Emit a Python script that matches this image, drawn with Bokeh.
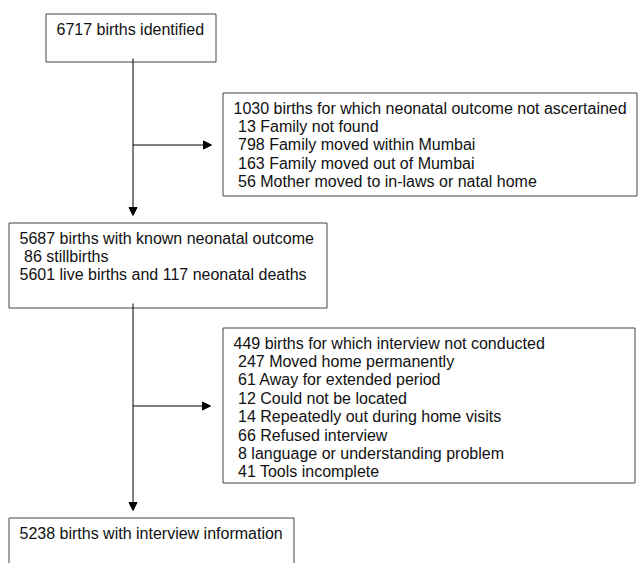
from bokeh.plotting import figure
from bokeh.models import Range1d, Arrow, NormalHead
from bokeh.core.properties import value
from bokeh.embed import file_html
from bokeh.resources import INLINE

# ---- data ----
identified_total = 6717
lost_total = 1030
lost_counts = [13, 798, 163, 56]
lost_reasons = ["Family not found", "Family moved within Mumbai",
                "Family moved out of Mumbai", "Mother moved to in-laws or natal home"]
known_total = 5687
stillbirths = 86
live_births = 5601
neonatal_deaths = 117
no_interview_total = 449
no_interview_counts = [247, 61, 12, 14, 66, 8, 41]
no_interview_reasons = ["Moved home permanently", "Away for extended period",
                        "Could not be located", "Repeatedly out during home visits",
                        "Refused interview", "language or understanding problem",
                        "Tools incomplete"]
interviewed_total = 5238

# box text: (text, indented?)
box1_lines = [(f"{identified_total} births identified", False)]
box2_lines = [(f"{lost_total} births for which neonatal outcome not ascertained", False)] + \
             [(f"{c} {r}", True) for c, r in zip(lost_counts, lost_reasons)]
box3_lines = [(f"{known_total} births with known neonatal outcome", False),
              (f"{stillbirths} stillbirths", True),
              (f"{live_births} live births and {neonatal_deaths} neonatal deaths", False)]
box4_lines = [(f"{no_interview_total} births for which interview not conducted", False)] + \
             [(f"{c} {r}", True) for c, r in zip(no_interview_counts, no_interview_reasons)]
box5_lines = [(f"{interviewed_total} births with interview information", False)]

# ---- layout (page pixel coordinates) ----
W, H = 639, 563
p = figure(width=W, height=H, output_backend="svg", toolbar_location=None,
           x_range=Range1d(0, W), y_range=Range1d(H, 0),
           x_axis_location=None, y_axis_location=None, min_border=0,
           outline_line_color=None, background_fill_color="white",
           border_fill_color="white")
p.grid.visible = False

boxes = [
    (45.5, 215.5, 13.5, 61.5, box1_lines),
    (222.5, 636.5, 92.5, 195.5, box2_lines),
    (8.5, 326.5, 222.5, 307.5, box3_lines),
    (222.5, 634.5, 327.5, 482.5, box4_lines),
    (8.5, 293.5, 517.5, 620.0, box5_lines),
]

LINE_H = 18.4
PAD_X = 10.5
PAD_Y = 15
INDENT = 4.5

p.quad(left=[b[0] for b in boxes], right=[b[1] for b in boxes],
       top=[b[2] for b in boxes], bottom=[b[3] for b in boxes],
       fill_color=None, line_color="#444444", line_width=1)

tx, ty, tt = [], [], []
for (l, r, t, b, lines) in boxes:
    for i, (s, ind) in enumerate(lines):
        tx.append(l + PAD_X + (INDENT if ind else 0))
        ty.append(t + PAD_Y + i * LINE_H)
        tt.append(s)

p.text(x=tx, y=ty, text=tt, text_font=value("Liberation Sans"),
       text_font_size="16px", text_baseline="alphabetic", text_align="left",
       text_color="#111111")

# connectors
VX = 132.5
arrows = [
    (VX, 58, VX, 215),
    (VX, 144.5, 211, 144.5),
    (VX, 303, VX, 510),
    (VX, 405.5, 210, 405.5),
]
for (x0, y0, x1, y1) in arrows:
    p.add_layout(Arrow(x_start=x0, y_start=y0, x_end=x1, y_end=y1,
                       line_color="black", line_width=1,
                       end=NormalHead(size=8, fill_color="black", line_color="black",
                                      line_width=1)))

open("out.html", "w").write(file_html(p, INLINE))
